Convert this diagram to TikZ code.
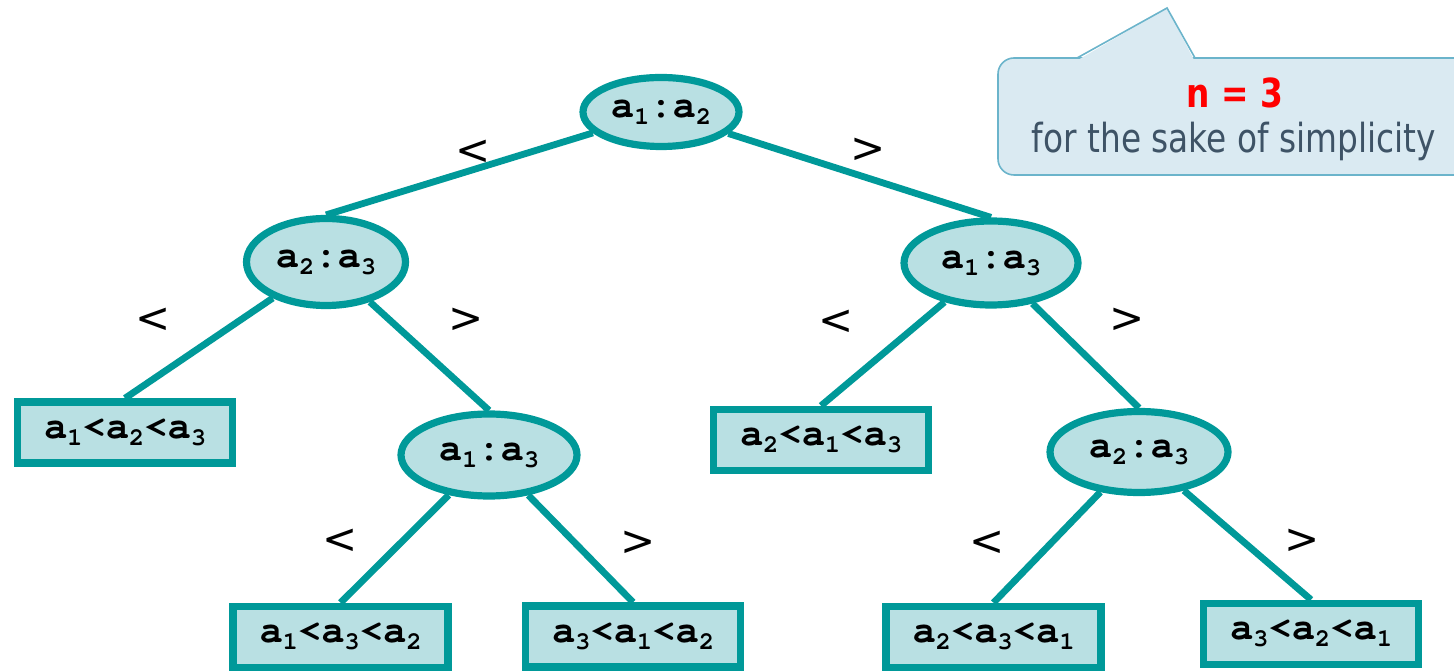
\documentclass[tikz,border=0pt]{standalone}
\usepackage{fontspec}
\newfontfamily\tahfont[FakeStretch=0.82]{DejaVu Sans}
\newfontfamily\labfont{DejaVu Sans}
\usetikzlibrary{shapes.geometric}
\definecolor{teal1}{RGB}{0,153,153}
\definecolor{nfill}{RGB}{185,224,227}
\definecolor{cfill}{RGB}{218,234,242}
\definecolor{cborder}{RGB}{107,180,203}
\definecolor{ctext}{RGB}{62,83,102}
\definecolor{nred}{RGB}{255,0,0}
\newcommand\courfont{\fontencoding{T1}\fontfamily{pcr}\fontseries{b}\selectfont}
\newcommand\subs[1]{\raisebox{-3.5pt}{\fontsize{12.5}{13}\selectfont #1}}
\tikzset{
  decision/.style={ellipse, draw=teal1, fill=nfill, line width=3.6pt, inner sep=0pt,
    font=\courfont\fontsize{19.5}{24}\selectfont},
  leaf/.style={rectangle, draw=teal1, fill=nfill, line width=3.75pt, inner sep=0pt,
    minimum width=107.5pt, minimum height=30.5pt,
    font=\courfont\fontsize{19.5}{24}\selectfont},
  edge/.style={draw=teal1, line width=3.4pt},
  rel/.style={font=\labfont\fontsize{21}{24}\selectfont, inner sep=0pt},
  ctxt/.style={font=\tahfont\fontsize{20}{24}\selectfont, text=ctext, inner sep=0pt, anchor=base}
}
\begin{document}
\begin{tikzpicture}[x=0.5pt,y=-0.5pt]
\useasboundingbox (0,0) rectangle (1454,672);
\clip (0,0) rectangle (1454,672);

% callout
\path[fill=cfill, draw=cborder, line width=0.8pt, rounded corners=8pt] (998,58) rectangle (1480,175);
\fill[cfill] (1078,60) -- (1167,8) -- (1194,60) -- cycle;
\draw[cborder, line width=0.8pt, line join=miter] (1077,58) -- (1167,8) -- (1195,58);
\node[ctxt, text=nred, font=\tahfont\bfseries\fontsize{20}{24}\selectfont] (cn) at (1235,108) {n = 3};
\node[ctxt] (cs) at (1234,153) {for the sake of simplicity};

% decision nodes
\node[decision, minimum width=78pt, minimum height=34.5pt] (r) at (661,112) {a\subs{1}:a\subs{2}};
\node[decision, minimum width=79.5pt, minimum height=43.5pt] (l) at (326,262) {a\subs{2}:a\subs{3}};
\node[decision, minimum width=87pt, minimum height=42pt] (rr) at (991,263) {a\subs{1}:a\subs{3}};
\node[decision, minimum width=88pt, minimum height=41pt] (ml) at (489,455) {a\subs{1}:a\subs{3}};
\node[decision, minimum width=89pt, minimum height=40.5pt] (mr) at (1139,452) {a\subs{2}:a\subs{3}};

% leaves
\node[leaf] (f1) at (125,432.5) {a\subs{1}<a\subs{2}<a\subs{3}};
\node[leaf] (f2) at (821,440) {a\subs{2}<a\subs{1}<a\subs{3}};
\node[leaf] (f3) at (340.5,637) {a\subs{1}<a\subs{3}<a\subs{2}};
\node[leaf] (f4) at (633,636.5) {a\subs{3}<a\subs{1}<a\subs{2}};
\node[leaf] (f5) at (993.5,637) {a\subs{2}<a\subs{3}<a\subs{1}};
\node[leaf] (f6) at (1311,634) {a\subs{3}<a\subs{2}<a\subs{1}};

% edges
\draw[edge] (r) -- (l.north);
\draw[edge] (r) -- (rr.north);
\draw[edge] (l) -- (f1.north);
\draw[edge] (l) -- (ml.north);
\draw[edge] (rr) -- (f2.north);
\draw[edge] (rr) -- (mr.north);
\draw[edge] (ml) -- (f3.north);
\draw[edge] (ml) -- (f4.north);
\draw[edge] (mr) -- (f5.north);
\draw[edge] (mr) -- (f6.north);

% relation labels
\node[rel] (s0) at (473,152) {<};
\node[rel] (g0) at (868,150) {>};
\node[rel] (s1) at (153,320) {<};
\node[rel] (g1) at (466,320) {>};
\node[rel] (s2) at (836,322) {<};
\node[rel] (g2) at (1127,320) {>};
\node[rel] (s3) at (340,541) {<};
\node[rel] (g3) at (638,543) {>};
\node[rel] (s4) at (987,543) {<};
\node[rel] (g4) at (1302,541) {>};
\end{tikzpicture}
\end{document}
